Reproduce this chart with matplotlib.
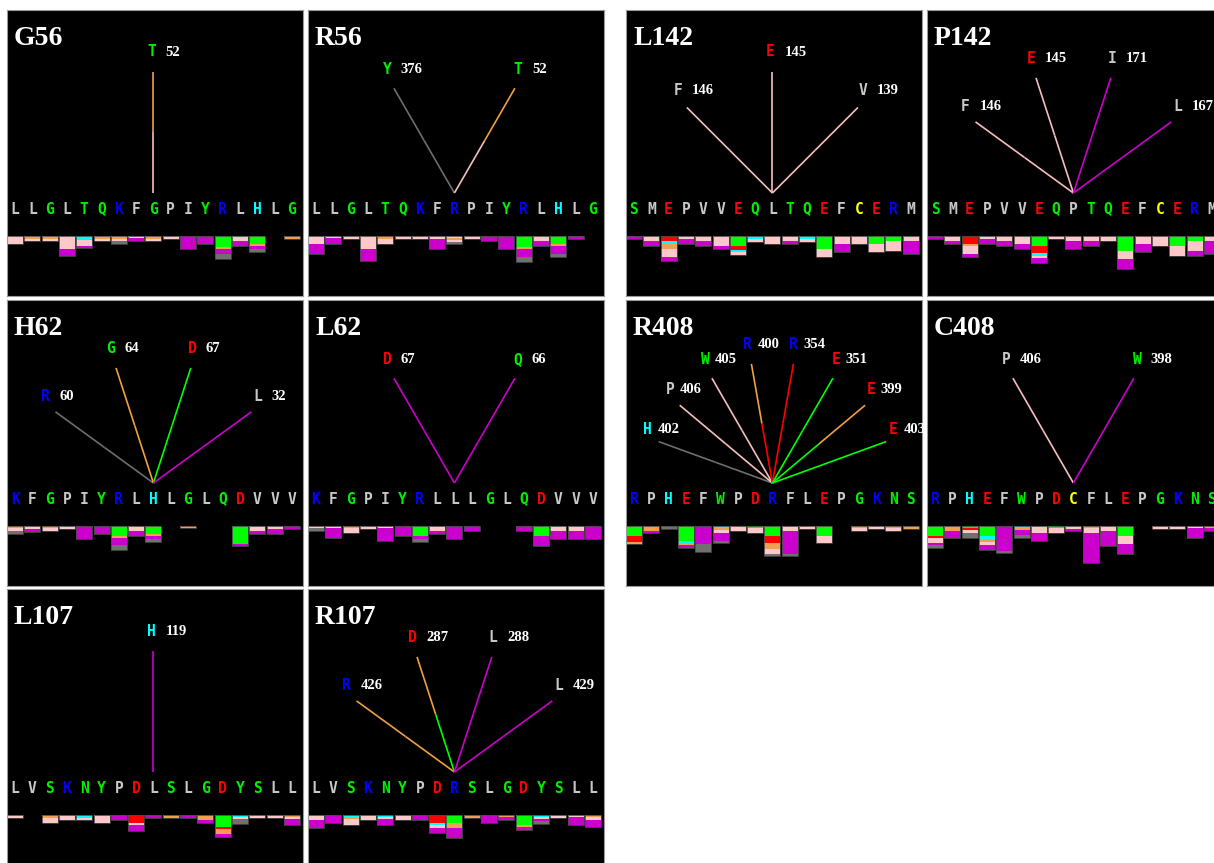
import matplotlib
matplotlib.use("Agg")
import matplotlib.pyplot as plt
import numpy as np

# ---------------- data ----------------
# sequence windows (17 residues, centre = mutated residue)
SEQ_G56 = "LLGLTQKFGPIYRLHLG"
SEQ_R56 = "LLGLTQKFRPIYRLHLG"
SEQ_L142 = "SMEPVVEQLTQEFCERM"
SEQ_P142 = "SMEPVVEQPTQEFCERM"
SEQ_H62 = "KFGPIYRLHLGLQDVVV"
SEQ_L62 = "KFGPIYRLLLGLQDVVV"
SEQ_R408 = "RPHEFWPDRFLEPGKNS"
SEQ_C408 = "RPHEFWPDCFLEPGKNS"
SEQ_L107 = "LVSKNYPDLSLGDYSLL"
SEQ_R107 = "LVSKNYPDRSLGDYSLL"

# contacts: (partner residue, partner number, inner colour, outer colour)
CON_G56 = [("T", 52, "p", "o")]
CON_R56 = [("Y", 376, "k", "k"), ("T", 52, "p", "o")]
CON_L142 = [("F", 146, "p", "p"), ("E", 145, "p", "p"), ("V", 139, "p", "p")]
CON_P142 = [("F", 146, "p", "p"), ("E", 145, "p", "p"), ("I", 171, "m", "m"), ("L", 167, "m", "m")]
CON_H62 = [("R", 60, "k", "k"), ("G", 64, "o", "o"), ("D", 67, "g", "g"), ("L", 32, "m", "m")]
CON_L62 = [("D", 67, "m", "m"), ("Q", 66, "m", "m")]
CON_R408 = [("H", 402, "k", "k"), ("P", 406, "p", "p"), ("W", 405, "p", "p"), ("R", 400, "r", "o"),
            ("R", 354, "r", "r"), ("E", 351, "g", "g"), ("E", 399, "g", "o"), ("E", 403, "g", "g")]
CON_C408 = [("P", 406, "p", "p"), ("W", 398, "m", "m")]
CON_L107 = [("H", 119, "m", "m")]
CON_R107 = [("R", 426, "o", "o"), ("D", 287, "g", "o"), ("L", 288, "m", "m"), ("L", 429, "m", "m")]

# stacked bars under each residue: colour code + depth
BAR_G56 = ["p8", "p1 o2 p2", "p1 o2 p2", "p13 m7", "c2.5 o1.5 p5.5 m2.5", "p1 o2 p2",
           "p1 o2 p2 k2.5", "p2 m3", "p1 o2 p2", "p2.5", "m12.5", "m8", "g11 o2 m5 k5",
           "p5 m5", "g8 o2 m3 k3", "", "o2.5"]
BAR_R56 = ["p8 m10", "p2 m6", "p2.5", "p13 m12", "o2.5 p5", "p2.5", "p2.5", "p2.5 m10",
           "p1.5 o2 p2 k2.5", "p2.5", "m5", "m12.5", "g11 o2 m8 k5", "p5 m5",
           "g8 o2 m8 k3", "m2.5", ""]
BAR_L142 = ["m2.5", "p5 m5", "r5 c3 o5 p8 m4", "p2.5 m5", "p5 m5", "p10 m2.5",
            "g10 r4 c2 p3", "c3 p2.5", "p8", "p5 m2.5", "c3 p2.5", "g12.5 p8", "p8 m8",
            "p8", "g8 p8", "g5 p10", "p5 m13"]
BAR_P142 = ["m2.5", "p5 m3", "r8 o2 p8 m3", "p3 m5", "p5 m5", "p8 m5", "g10 r7 c3 p2 m5",
            "p2.5", "p5 m8", "p5 m5", "p5", "g15 p8 m10", "p8 m8", "p10", "g10 p10",
            "g5 p10 m5", "p5 m13"]
BAR_H62 = ["o2 p3 k3", "p3 m3", "o2 p3", "p2.5", "m13", "m8", "g10 o2 m7 k5", "p5 m5",
           "g8 o2 m3 k3", "", "o2", "", "", "g18 m2", "p5 m3", "p3 m5", "m2.5"]
BAR_L62 = ["p2 k3", "p2 m10", "o2 p5", "p2.5", "p2 m13", "m10", "g10 m3 k3", "p5 m3",
           "m13", "m5", "", "", "m5", "g10 m10", "p5 m8", "p5 m8", "m13"]
BAR_R408 = ["g10 r6 o2", "o5 m2", "k2.5", "g15 c2 o2 m3", "m18 k8", "c2 o2 p3 m8 k2",
            "p5", "g2 p5", "g10 r7 o6 p5 k2", "p5 m23 k2", "p2.5", "g10 p7", "",
            "o2 p3", "p2.5", "o2 p3", "o2.5"]
BAR_C408 = ["g10 r2 p5 m2 k3", "o5 m7", "g2 r2 p3 k5", "g10 c3 o3 p3 m5", "m25 k2",
            "c2 o2 m5 k3", "p7 m8", "g2 p5", "p2.5 m2.5", "o2 p5 m30", "p5 m15",
            "g10 p8 m10", "", "p2.5", "p2.5", "p2 m10", "o2 m3"]
BAR_L107 = ["p2.5", "", "o3 p5", "p5", "c3 p2", "p8", "m5", "r8 p2 m6", "m2.5", "o2.5",
            "m2.5", "o5 m3", "g12 r2 o5 m3", "c2 p2 k5", "p2.5", "p2.5", "o2 p2 m6"]
BAR_R107 = ["p5 m8", "m8", "c2 o2 p6", "p5", "c2 p2 m6", "p5", "m5", "r8 c2 p3 m5",
            "g8 o5 m10", "o2.5", "m8", "o2 m3", "g10 o2 m3", "c2 p2 m2 k3", "p2.5",
            "p2 m8", "o2 p3 m7"]

PANELS = [
    ("G56", SEQ_G56, CON_G56, BAR_G56, 0, 0),
    ("R56", SEQ_R56, CON_R56, BAR_R56, 0, 1),
    ("L142", SEQ_L142, CON_L142, BAR_L142, 0, 2),
    ("P142", SEQ_P142, CON_P142, BAR_P142, 0, 3),
    ("H62", SEQ_H62, CON_H62, BAR_H62, 1, 0),
    ("L62", SEQ_L62, CON_L62, BAR_L62, 1, 1),
    ("R408", SEQ_R408, CON_R408, BAR_R408, 1, 2),
    ("C408", SEQ_C408, CON_C408, BAR_C408, 1, 3),
    ("L107", SEQ_L107, CON_L107, BAR_L107, 2, 0),
    ("R107", SEQ_R107, CON_R107, BAR_R107, 2, 1),
]

# ---------------- style ----------------
W, H = 1214, 863
COL_X = [7, 308, 626, 927]
ROW_Y = [10, 300, 589]
PANEL_W, PANEL_H = 296, 286
PITCH = 17.3     # px per residue
BASE = 226       # px from panel top to bar baseline
VERTEX_Y = 43    # px above baseline
RADIUS = 121     # px
LETTER_Y = 27

BAR_COLORS = {"p": "#FFC8C8", "o": "#F0A050", "m": "#CC00CC", "g": "#00FF00",
              "c": "#00FFFF", "r": "#FF0000", "k": "#707070"}
LINE_COLORS = {"p": "#F8BEBE", "o": "#F0A040", "m": "#CC00CC", "g": "#00FF00",
               "r": "#FF0000", "k": "#6E6E6E"}

def res_color(aa):
    if aa in "GTQYSNW":
        return "#00F000"
    if aa in "KR":
        return "#0000FF"
    if aa in "DE":
        return "#FF0000"
    if aa == "H":
        return "#00FFFF"
    if aa == "C":
        return "#FFFF00"
    return "#C8C8C8"

def parse(spec):
    out = []
    for tok in spec.split():
        out.append((tok[0], float(tok[1:])))
    return out

fig = plt.figure(figsize=(W / 100, H / 100), dpi=100)
fig.patch.set_facecolor("white")

MONO = dict(family="DejaVu Sans Mono", fontweight="bold", fontsize=10.5)
SERIF = dict(family="Liberation Serif", fontweight="bold")

for title, seq, contacts, bars, row, col in PANELS:
    x0, y0 = COL_X[col], ROW_Y[row]
    ax = fig.add_axes([x0 / W, 1 - (y0 + PANEL_H) / H, PANEL_W / W, PANEL_H / H])
    ax.set_facecolor("black")
    ax.set_xlim(-8 / PITCH, (PANEL_W - 8) / PITCH)
    ax.set_ylim(BASE - PANEL_H, BASE)
    ax.set_xticks([])
    ax.set_yticks([])
    for s in ax.spines.values():
        s.set_color("#9A9A9A")
        s.set_linewidth(0.8)

    ax.text(7 / PANEL_W, 1 - 35 / PANEL_H, title, transform=ax.transAxes,
            color="white", fontsize=20, ha="left", va="baseline", **SERIF)

    # residue letters
    for i, aa in enumerate(seq):
        ax.text(i, LETTER_Y, aa, color=res_color(aa), ha="center", va="center", **MONO)

    # stacked bars
    bw = 16 / PITCH
    for i, spec in enumerate(bars):
        segs = parse(spec)
        cum = 0.0
        for code, h in segs:
            ax.bar(i, -h, bottom=-cum, width=bw, color=BAR_COLORS[code], linewidth=0)
            cum += h
        if cum > 0:
            ax.bar(i, -cum, bottom=0, width=bw, fill=False, edgecolor="#4A4A4A",
                   linewidth=0.6)

    # contact lines
    n = len(contacts)
    cx = (len(seq) - 1) / 2
    gap = 10 if n > 4 else 14
    for k, (aa, num, c_in, c_out) in enumerate(contacts):
        th = np.radians(180 - 180 * (k + 1) / (n + 1))
        ex = cx + RADIUS * np.cos(th) / PITCH
        ey = VERTEX_Y + RADIUS * np.sin(th)
        mx, my = (cx + ex) / 2, (VERTEX_Y + ey) / 2
        ax.plot([cx, mx], [VERTEX_Y, my], color=LINE_COLORS[c_in], lw=1.2,
                solid_capstyle="butt")
        ax.plot([mx, ex], [my, ey], color=LINE_COLORS[c_out], lw=1.2,
                solid_capstyle="butt")
        lx = ex + (-2 + 10 * np.cos(th)) / PITCH
        ly = ey + 8 + 12 * np.sin(th)
        ax.text(lx, ly, aa, color=res_color(aa), ha="center", va="center", **MONO)
        ax.text(lx + gap / PITCH, ly, str(num), color="white", ha="left", va="center",
                fontsize=10.5, **SERIF)

fig.savefig("out.png", dpi=100, facecolor="white")
